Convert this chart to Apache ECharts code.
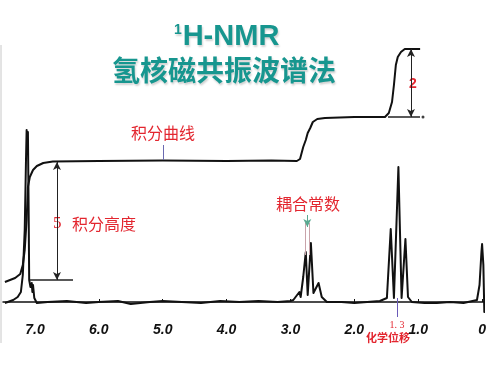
<!DOCTYPE html>
<html>
<head>
<meta charset="utf-8">
<script src="https://cdn.jsdelivr.net/npm/echarts@6/dist/echarts.min.js"></script>
<style>html,body{margin:0;padding:0;background:#fff}#c{width:500px;height:375px}</style>
</head>
<body>
<div id="c"></div>
<script>
// chemical shift (ppm) and signal intensity of the 1H spectrum
var spectrumPpm = [7.47,7.34,7.27,7.22,7.19,7.16,7.14,7.13,7.12,7.11,7.10,7.09,7.07,7.05,7.04,7.03,7.01,6.97,
  6.8,6.5,6.2,6.0,5.7,5.5,5.2,5.0,4.7,4.4,4.1,3.8,3.5,3.2,3.0,
  2.955,2.86,2.84,2.80,2.76,2.73,2.68,2.64,2.56,2.51,2.43,
  2.2,2.0,1.8,1.6,1.49,1.43,1.38,1.31,1.26,1.20,1.16,1.10,
  0.9,0.71,0.5,0.29,0.08,0.04,0.01,0.00,-0.02,-0.035,-0.045,-0.08,-0.2];
var spectrumVal = [-1,2,5,10,27,72,142,172,150,170,102,22,15,19,10,17,4,-1,
  0,1,-1,0,1,-2,0,1,0,-1,1,0,1,0,1,
  2,10,5,25,50,7,59,9,19,5,0,
  0,-1,0,1,4,73,4,135,4,63,5,0,
  -1,-1,0,-1,2,17,50,58,37,-10,2,5,4];
// integral curve
var integralPpm = [7.47,7.31,7.23,7.19,7.16,7.13,7.11,7.08,7.03,6.97,6.87,6.72,6.0,5.0,4.0,3.3,2.90,2.85,2.80,2.76,2.73,2.69,2.65,2.58,2.46,2.0,1.52,1.46,1.41,1.38,1.35,1.32,1.27,1.21,0.97];
var integralVal = [20,24,28,37,52,82,115,125,132,136,139,140.5,141,141.5,141,141.5,141,143,155,162,169,174,180,183,184,185,185,189,200,217,237,245,250,253,253];
// axis tick labels
var tickValues = [7,6,5,4,3,2,1,0];
var tickLabels = ['7.0','6.0','5.0','4.0','3.0','2.0','1.0','0'];
// annotation marks [ppm, intensity]
var fiveArrow = [[6.655,140],[6.655,22]];
var fiveBase = [[7.077,22],[6.404,22]];
var twoArrow = [[1.113,253],[1.113,185]];
var twoBase = [[1.473,185],[0.972,185]];
var twoDot = [[0.925,185]];
var curvePointer = [[4.995,157],[4.995,142]];
var couplingLeft = [[2.772,79],[2.772,47]];
var couplingRight = [[2.705,79],[2.705,47]];
var couplingArrow = [[2.736,87],[2.736,75]];
var shiftLine = [[1.332,4],[1.332,-15]];

var chart = echarts.init(document.getElementById('c'), null, {renderer:'canvas'});
function pairs(xs, ys){ return xs.map(function(x,i){return [x, ys[i]];}); }
function seg(p, color, w, s0, s1){
  return [{coord:p[0], symbol:s0||'none', lineStyle:{color:color,width:w,type:'solid'}},
          {coord:p[1], symbol:s1||'none'}];
}
var titleColor = '#17968f';
var red = '#e3262f';
var shadow = {textShadowColor:'rgba(0,0,0,0.18)',textShadowOffsetX:1,textShadowOffsetY:2,textShadowBlur:2};
function ts(o){ for (var k in shadow) o[k]=shadow[k]; return o; }
chart.setOption({
  animation:false,
  backgroundColor:'#fff',
  grid:{left:3,right:16,top:40,bottom:58},
  xAxis:{type:'value',inverse:true,min:-0.03,max:7.5,
    axisLine:{show:true,lineStyle:{color:'#111',width:1.5}},
    axisTick:{show:true,inside:true,length:3,customValues:tickValues,lineStyle:{color:'#111'}},
    axisLabel:{customValues:tickValues,formatter:function(v){var i=tickValues.indexOf(Math.round(v*10)/10);return i>=0?tickLabels[i]:'';},
      fontFamily:'Liberation Sans',fontStyle:'italic',fontWeight:'bold',fontSize:14,color:'#111',margin:6},
    splitLine:{show:false}},
  yAxis:{type:'value',min:-15,max:262,show:false,splitLine:{show:false}},
  graphic:[
    {type:'line',shape:{x1:1,y1:45,x2:1,y2:343},style:{stroke:'#c8c8c8',lineWidth:1}},
    {type:'text',x:178,y:30,style:ts({text:'1',font:'bold 14px "Liberation Sans"',fill:titleColor,align:'center',verticalAlign:'middle'})},
    {type:'text',x:231,y:37,style:ts({text:'H-NMR',font:'bold 29px "Liberation Sans"',fill:titleColor,align:'center',verticalAlign:'middle'})},
    {type:'text',x:224,y:70,style:ts({text:'氢核磁共振波谱法',font:'bold 28px "Noto Sans CJK SC"',fill:titleColor,align:'center',verticalAlign:'middle'})},
    {type:'text',x:163,y:133,style:{text:'积分曲线',font:'16px "Noto Sans CJK SC"',fill:red,align:'center',verticalAlign:'middle'}},
    {type:'text',x:53,y:224,style:{text:'5',font:'17px "Liberation Serif"',fill:red,align:'left',verticalAlign:'middle'}},
    {type:'text',x:104,y:224,style:{text:'积分高度',font:'16px "Noto Sans CJK SC"',fill:red,align:'center',verticalAlign:'middle'}},
    {type:'text',x:308,y:204,style:{text:'耦合常数',font:'16px "Noto Sans CJK SC"',fill:red,align:'center',verticalAlign:'middle'}},
    {type:'text',x:413,y:84,style:{text:'2',font:'bold 14px "Liberation Sans"',fill:red,align:'center',verticalAlign:'middle'}},
    {type:'text',x:397,y:325,style:{text:'1. 3',font:'10px "Liberation Serif"',fill:red,align:'center',verticalAlign:'middle'}},
    {type:'text',x:388,y:338,style:{text:'化学位移',font:'bold 11px "Noto Sans CJK SC"',fill:red,align:'center',verticalAlign:'middle'}}
  ],
  series:[
    {type:'line',data:pairs(spectrumPpm,spectrumVal),showSymbol:false,symbol:'none',clip:false,
      lineStyle:{color:'#111',width:2,join:'round'},z:3},
    {type:'line',data:pairs(integralPpm,integralVal),showSymbol:false,symbol:'none',
      lineStyle:{color:'#111',width:2,join:'round'},z:3,
      markLine:{silent:true,symbolSize:[6,8],label:{show:false},
        data:[
          seg(fiveArrow,'#222',1,'arrow','arrow'),
          seg(fiveBase,'#222',1.5),
          seg(twoArrow,'#222',1,'arrow','arrow'),
          seg(twoBase,'#222',1.5),
          seg(curvePointer,'#6a6ab0',1),
          seg(couplingLeft,'#c9a3aa',1),
          seg(couplingRight,'#c9a3aa',1),
          seg(couplingArrow,'#5aa890',1,'none','arrow'),
          seg(shiftLine,'#6a5ab8',1)
        ]}},
    {type:'scatter',data:twoDot,symbolSize:3,itemStyle:{color:'#111'},z:3}
  ]
});
</script>
</body>
</html>
